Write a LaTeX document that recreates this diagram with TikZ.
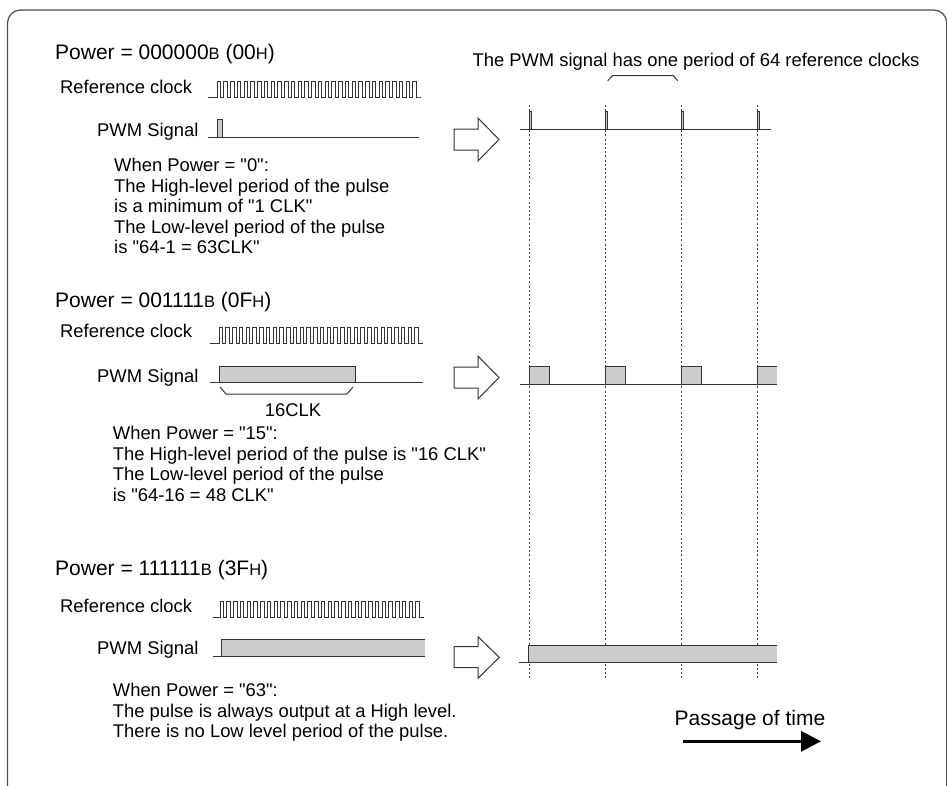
\documentclass[tikz,border=0pt]{standalone}
\usepackage{fontspec}
\setmainfont{Liberation Sans}[Ligatures=TeXOff]
\usetikzlibrary{arrows.meta}
\newcommand{\subcap}[1]{{\fontsize{16.5}{16.5}\selectfont #1}}
\begin{document}
\begin{tikzpicture}[x=1pt,y=-1pt,
  sig/.style={draw=black!80, line width=1pt},
  clk/.style={draw=black!80, line width=0.75pt},
  hi/.style={fill=gray!40},
  gridline/.style={draw=black!75, line width=0.9pt, dash pattern=on 2pt off 2.2pt},
  blockarrow/.style={draw=black!80, fill=white, line width=1pt, line join=miter},
  body/.style={font=\fontsize{18.4}{20.5}\selectfont, inner sep=0pt, align=left},
  title/.style={font=\fontsize{21}{24}\selectfont, inner sep=0pt},
]
\useasboundingbox (0,0) rectangle (947,785);
\draw[draw=black!70, line width=1.2pt, rounded corners=13pt] (7.5,10) rectangle (946.8,800);

% ---------- Section 1 ----------
\node[title, anchor=base west] (t1) at (55,59.5) {Power = 000000\subcap{B} (00\subcap{H})};
\node[body, anchor=base west] (rc1) at (60,93.6) {Reference clock};
\node[body, anchor=base west] (pw1) at (97,136.6) {PWM Signal};
\draw[clk] (208,97) -- (217,97) foreach \i in {0,...,29} { -- ++(0,-16) -- ++(3.4,0) -- ++(0,16) -- ++(3.35,0) } -- (420,97);
\filldraw[sig,hi] (217.7,137) rectangle (222.3,119);
\draw[sig] (208,137) -- (419,137);
\node[body, anchor=north west] (d1) at (114,158.4) {When Power = "0":\\The High-level period of the pulse\\is a minimum of "1 CLK"\\The Low-level period of the pulse\\is "64-1 = 63CLK"};

% ---------- Section 2 ----------
\node[title, anchor=base west] (t2) at (55,307.5) {Power = 001111\subcap{B} (0F\subcap{H})};
\node[body, anchor=base west] (rc2) at (60,337.6) {Reference clock};
\node[body, anchor=base west] (pw2) at (97,382.6) {PWM Signal};
\draw[clk] (210,343.3) -- (219,343.3) foreach \i in {0,...,29} { -- ++(0,-16) -- ++(3.4,0) -- ++(0,16) -- ++(3.35,0) } -- (422.7,343.3);
\filldraw[sig,hi] (219,382) rectangle (355,366);
\draw[sig] (210,382) -- (422.7,382);
\draw[sig] (220,387) -- (226,394) -- (347,394) -- (353,387);
\node[body, anchor=base] (clk16) at (293,416.6) {16CLK};
\node[body, anchor=north west] (d2) at (112.7,426.4) {When Power = "15":\\The High-level period of the pulse is "16 CLK"\\The Low-level period of the pulse\\is "64-16 = 48 CLK"};

% ---------- Section 3 ----------
\node[title, anchor=base west] (t3) at (55,575.5) {Power = 111111\subcap{B} (3F\subcap{H})};
\node[body, anchor=base west] (rc3) at (60,612.6) {Reference clock};
\node[body, anchor=base west] (pw3) at (97,654.6) {PWM Signal};
\draw[clk] (212.7,617) -- (220,617) foreach \i in {0,...,29} { -- ++(0,-16) -- ++(3.4,0) -- ++(0,16) -- ++(3.35,0) } -- (424,617);
\fill[hi] (221.7,656) rectangle (425,639);
\draw[sig] (221.7,656) -- (221.7,639) -- (425,639);
\draw[sig] (212.7,656) -- (425,656);
\node[body, anchor=north west] (d3) at (112.7,683.4) {When Power = "63":\\The pulse is always output at a High level.\\There is no Low level period of the pulse.};

% ---------- Right side ----------
\node[body, anchor=base] (per) at (696,66.6) {The PWM signal has one period of 64 reference clocks};
\draw[sig] (607.7,80.7) -- (612.3,75.7) -- (673.3,75.7) -- (677.7,80.7);
\foreach \x in {529,605,681,757} { \draw[gridline] (\x,105) -- (\x,678); }

% row 1
\foreach \x in {529,605,681,757} { \filldraw[sig,hi] (\x,129) rectangle (\x+2.7,111); }
\draw[sig] (520,129) -- (771,129);
% row 2
\foreach \x in {529,605,681} { \filldraw[sig,hi] (\x,384) rectangle (\x+20.7,366.7); }
\fill[hi] (757,384) rectangle (776.7,366.7);
\draw[sig] (757,384) -- (757,366.7) -- (776.7,366.7);
\draw[sig] (520,384) -- (776.7,384);
% row 3
\fill[hi] (528.7,662.3) rectangle (776.7,645);
\draw[sig] (528.7,662.3) -- (528.7,645) -- (776.7,645);
\draw[sig] (519,662.3) -- (776.7,662.3);

% block arrows
\draw[blockarrow] (454,129) -- (478,129) -- (478,118) -- (499,139.5) -- (478,161) -- (478,150) -- (454,150) -- cycle;
\draw[blockarrow] (454,367) -- (478,367) -- (478,356) -- (499,377.5) -- (478,399) -- (478,388) -- (454,388) -- cycle;
\draw[blockarrow] (454,646.7) -- (478,646.7) -- (478,636.7) -- (499.3,657.3) -- (478,678.3) -- (478,667.7) -- (454,667.7) -- cycle;

% passage of time
\node[title, anchor=base] (pt) at (750,725.8) {Passage of time};
\coordinate (pa) at (683,741.3);
\coordinate (pb) at (821,741.3);
\draw[line width=3.3pt, -{Triangle[length=20pt,width=20pt]}] (pa) -- (pb);
\end{tikzpicture}
\end{document}
